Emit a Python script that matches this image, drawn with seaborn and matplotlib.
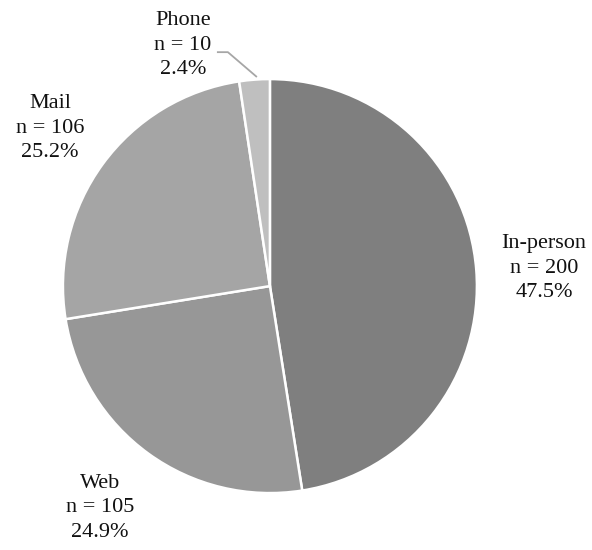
import matplotlib
matplotlib.use("Agg")
import matplotlib.pyplot as plt
import seaborn as sns

# Survey responses by channel
channels = ["In-person", "Web", "Mail", "Phone"]
counts = [200, 105, 106, 10]
colors = ["#7f7f7f", "#979797", "#a5a5a5", "#bfbfbf"]

sns.set_theme(style="white")
plt.rcParams["font.family"] = ["Liberation Serif", "DejaVu Serif"]

fig = plt.figure(figsize=(5.92, 5.50), dpi=100)
ax = fig.add_axes([0, 0, 1, 1])

wedges, _ = ax.pie(
    counts,
    colors=colors,
    startangle=90,
    counterclock=False,
    radius=1.0,
    wedgeprops=dict(edgecolor="white", linewidth=1.8),
)

total = sum(counts)
label_pos = {
    "In-person": (1.324, 0.087),
    "Web": (-0.821, -1.072),
    "Mail": (-1.063, 0.763),
    "Phone": (-0.420, 1.164),
}
for name, n in zip(channels, counts):
    x, y = label_pos[name]
    ax.text(x, y, f"{name}\nn = {n}\n{100 * n / total:.1f}%",
            ha="center", va="center", fontsize=16, linespacing=1.4,
            color="#111111")

# leader line for the small slice
ax.plot([-0.256, -0.203, -0.063], [1.130, 1.130, 1.010],
        color="#a6a6a6", linewidth=1.3, solid_capstyle="butt")

ax.set_xlim(-1.304, 1.556)
ax.set_ylim(-1.275, 1.382)
ax.set_aspect("auto")
ax.axis("off")

fig.savefig("out.png", dpi=100, facecolor="white")
